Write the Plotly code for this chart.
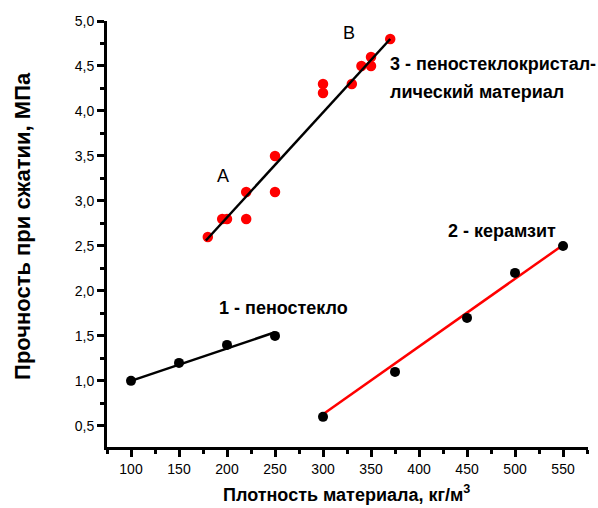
import plotly.graph_objects as go

# Series 1 - пеностекло (black points, black fit line)
s1_x = [100, 150, 200, 250]
s1_y = [1.0, 1.2, 1.4, 1.5]
fit1_x = [100, 250]
fit1_y = [1.0, 1.54]

# Series 2 - керамзит (black points, red fit line)
s2_x = [300, 375, 450, 500, 550]
s2_y = [0.6, 1.1, 1.7, 2.2, 2.5]
fit2_x = [300, 550]
fit2_y = [0.63, 2.51]

# Series 3 - пеностеклокристаллический материал (red points, black fit line)
s3_x = [180, 195, 200, 220, 220, 250, 250, 300, 300, 330, 340, 350, 350, 370]
s3_y = [2.6, 2.8, 2.8, 3.1, 2.8, 3.5, 3.1, 4.3, 4.2, 4.3, 4.5, 4.6, 4.5, 4.8]
fit3_x = [178, 370]
fit3_y = [2.56, 4.8]

x_ticks = [100, 150, 200, 250, 300, 350, 400, 450, 500, 550]
y_ticks = [0.5, 1.0, 1.5, 2.0, 2.5, 3.0, 3.5, 4.0, 4.5, 5.0]

FONT = "Liberation Sans, Arial, sans-serif"
RED = "#ff0000"

fig = go.Figure()
fig.add_trace(go.Scatter(x=fit1_x, y=fit1_y, mode="lines",
                         line=dict(color="black", width=2.5), hoverinfo="skip"))
fig.add_trace(go.Scatter(x=s1_x, y=s1_y, mode="markers",
                         marker=dict(color="black", size=10)))
fig.add_trace(go.Scatter(x=fit2_x, y=fit2_y, mode="lines",
                         line=dict(color=RED, width=2.5), hoverinfo="skip"))
fig.add_trace(go.Scatter(x=s2_x, y=s2_y, mode="markers",
                         marker=dict(color="black", size=10)))
fig.add_trace(go.Scatter(x=s3_x, y=s3_y, mode="markers",
                         marker=dict(color=RED, size=10.5)))
fig.add_trace(go.Scatter(x=fit3_x, y=fit3_y, mode="lines",
                         line=dict(color="black", width=2.5), hoverinfo="skip"))

bold = dict(family=FONT, size=18, color="black", weight="bold")
reg = dict(family=FONT, size=18, color="black")

annotations = [
    dict(x=367.7, y=4.52, text="3 - пеностеклокристал-", xanchor="left", yanchor="middle", font=bold),
    dict(x=367.7, y=4.215, text="лический материал", xanchor="left", yanchor="middle", font=bold),
    dict(x=428.6, y=2.67, text="2 - керамзит", xanchor="left", yanchor="middle", font=bold),
    dict(x=189.5, y=1.81, text="1 - пеностекло", xanchor="left", yanchor="middle", font=bold),
    dict(x=195.7, y=3.28, text="A", xanchor="center", yanchor="middle", font=reg),
    dict(x=327.4, y=4.87, text="B", xanchor="center", yanchor="middle", font=reg),
    dict(xref="paper", yref="paper", x=0.498, y=-0.1408, text="Плотность материала, кг/м<sup>3</sup>",
         xanchor="center", yanchor="bottom", font=bold),
    dict(xref="paper", yref="paper", x=-0.1746, y=0.519, text="Прочность при сжатии, МПа",
         xanchor="center", yanchor="middle", textangle=-90,
         font=dict(family=FONT, size=22, color="black", weight="bold")),
]
for a in annotations:
    a.setdefault("xref", "x")
    a.setdefault("yref", "y")
    a["showarrow"] = False

axis_common = dict(showline=True, linecolor="black", linewidth=3, showgrid=False, zeroline=False,
                   ticks="outside", ticklen=7, tickwidth=2.5, tickcolor="black", automargin=False,
                   tickfont=dict(family=FONT, size=14, color="black"))

fig.update_layout(
    width=598, height=508,
    margin=dict(l=107, r=10, t=21, b=61, autoexpand=False),
    paper_bgcolor="white", plot_bgcolor="white",
    showlegend=False,
    separators=", ",
    annotations=annotations,
    xaxis=dict(range=[75, 576], tickvals=x_ticks,
               minor=dict(dtick=25, tick0=75, ticks="outside", ticklen=4, tickwidth=2.5, tickcolor="black"),
               **axis_common),
    yaxis=dict(range=[0.265, 5.0], tickvals=y_ticks, tickformat=".1f",
               minor=dict(dtick=0.25, tick0=0.25, ticks="outside", ticklen=4, tickwidth=2.5, tickcolor="black"),
               **axis_common),
)

fig.write_html("out.html", config={"displayModeBar": False},
               post_script="document.body.style.margin='0';document.body.style.padding='0';")
